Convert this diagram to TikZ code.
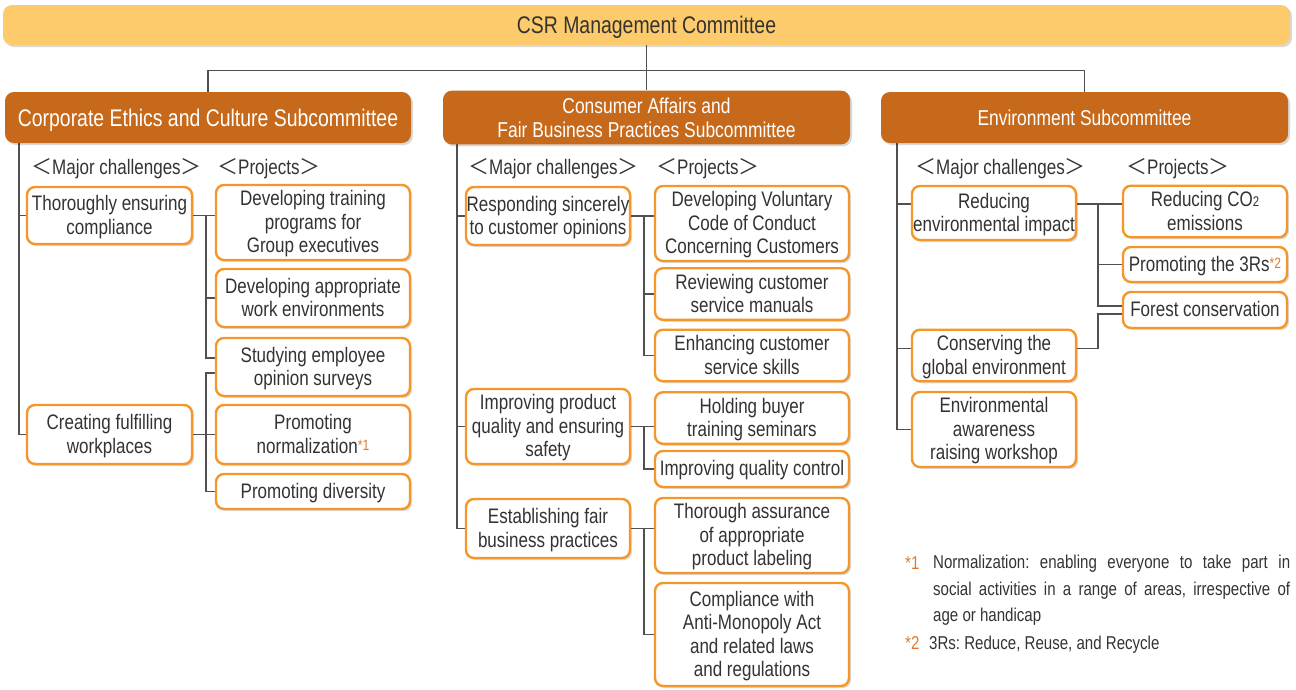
\documentclass[tikz,border=0pt]{standalone}
\usepackage{fontspec}
\setmainfont[FakeStretch=0.81]{Liberation Sans}
\newfontfamily\cjk{Noto Sans CJK JP}
\usetikzlibrary{shadows,calc,backgrounds}
\definecolor{topfill}{HTML}{FDCB6B}
\definecolor{subfill}{HTML}{C7691B}
\definecolor{boxor}{HTML}{F5962A}
\definecolor{fno}{HTML}{E2792A}
\definecolor{txt}{HTML}{333333}
\definecolor{connc}{HTML}{505050}
\newcommand\BoxFont{\fontsize{21}{23.5}\selectfont}
\newcommand\FnFont{\fontsize{18.6}{26.5}\selectfont\frenchspacing}
\newcommand\lbl[1]{{\cjk ＜}#1{\cjk ＞}}
\newcommand\fnmk[1]{\raisebox{3pt}{\fontsize{15}{15}\selectfont\color{fno}#1}}
\newcommand\tb[2][21pt]{\begin{tabular}{@{}c@{}}\rule{0pt}{#1}#2\end{tabular}}
\begin{document}
\begin{tikzpicture}[x=1pt,y=-1pt,
  shd/.style={drop shadow={shadow xshift=2pt,shadow yshift=-2pt,fill=black,opacity=0.15}},
  box/.style={draw=boxor,line width=2.4pt,fill=white,rounded corners=8pt,inner sep=0pt,
    font=\BoxFont,text=txt,shd},
  subbox/.style={fill=subfill,rounded corners=9pt,inner sep=0pt,text=white,shd},
  topbox/.style={fill=topfill,rounded corners=9pt,inner sep=0pt,text=txt,shd,
    font=\fontsize{24}{26}\selectfont},
  lab/.style={anchor=base west,inner sep=0pt,font=\BoxFont,text=txt},
  conn/.style={draw=connc,line width=1.2pt},
  fn/.style={inner sep=0pt,font=\FnFont,text=txt}]
\useasboundingbox (0,0) rectangle (1296,689);

% top and subcommittees
\node[topbox,minimum width=1287pt,minimum height=40pt] (top) at (646.5,25) {\tb[25pt]{CSR Management Committee}};
\node[subbox,minimum width=406pt,minimum height=51pt,font=\fontsize{24}{26}\selectfont] (sub1) at (208,117.5) {\tb[25pt]{Corporate Ethics and Culture Subcommittee}};
\node[subbox,minimum width=407pt,minimum height=51pt,font=\fontsize{21.5}{24}\selectfont] (sub2) at (646.5,117.5) {\tb[22.6pt]{Consumer Affairs and\\Fair Business Practices Subcommittee}};
\node[subbox,minimum width=407pt,minimum height=51pt,font=\fontsize{21.5}{24}\selectfont] (sub3) at (1084.5,117.5) {\tb[22.6pt]{Environment Subcommittee}};

% labels
\node[lab] (l1a) at (31,174) {\lbl{Major challenges}};
\node[lab] (l1b) at (217,174) {\lbl{Projects}};
\node[lab] (l2a) at (468,174) {\lbl{Major challenges}};
\node[lab] (l2b) at (656,174) {\lbl{Projects}};
\node[lab] (l3a) at (915,174) {\lbl{Major challenges}};
\node[lab] (l3b) at (1126,174) {\lbl{Projects}};

% left column
\node[box,minimum width=165pt,minimum height=57pt] (lc1) at (109.5,215.5) {\tb{Thoroughly ensuring\\compliance}};
\node[box,minimum width=165pt,minimum height=59pt] (lc2) at (109.5,434.5) {\tb{Creating fulfilling\\workplaces}};
\node[box,minimum width=194pt,minimum height=73pt] (lp1) at (313,222.5) {\tb{Developing training\\programs for\\Group executives}};
\node[box,minimum width=194pt,minimum height=58pt] (lp2) at (313,298) {\tb{Developing appropriate\\work environments}};
\node[box,minimum width=194pt,minimum height=58pt] (lp3) at (313,367) {\tb{Studying employee\\opinion surveys}};
\node[box,minimum width=194pt,minimum height=59pt] (lp4) at (313,434.5) {\tb{Promoting\\normalization\fnmk{*1}}};
\node[box,minimum width=194pt,minimum height=35pt] (lp5) at (313,491.5) {\tb{Promoting diversity}};

% middle column
\node[box,minimum width=164pt,minimum height=58pt] (mc1) at (548,216) {\tb{Responding sincerely\\to customer opinions}};
\node[box,minimum width=164pt,minimum height=73pt] (mc2) at (548,426.5) {\tb{Improving product\\quality and ensuring\\safety}};
\node[box,minimum width=164pt,minimum height=59pt] (mc3) at (548,528.5) {\tb{Establishing fair\\business practices}};
\node[box,minimum width=194pt,minimum height=73pt] (mp1) at (752,223.5) {\tb{Developing Voluntary\\Code of Conduct\\Concerning Customers}};
\node[box,minimum width=194pt,minimum height=50pt] (mp2) at (752,294) {\tb{Reviewing customer\\service manuals}};
\node[box,minimum width=194pt,minimum height=51pt] (mp3) at (752,355.5) {\tb{Enhancing customer\\service skills}};
\node[box,minimum width=194pt,minimum height=50pt] (mp4) at (752,418) {\tb{Holding buyer\\training seminars}};
\node[box,minimum width=194pt,minimum height=36pt] (mp5) at (752,469) {\tb{Improving quality control}};
\node[box,minimum width=194pt,minimum height=73pt] (mp6) at (752,535.5) {\tb{Thorough assurance\\of appropriate\\product labeling}};
\node[box,minimum width=194pt,minimum height=103pt] (mp7) at (752,634.5) {\tb{Compliance with\\Anti-Monopoly Act\\and related laws\\and regulations}};

% right column
\node[box,minimum width=164pt,minimum height=54pt] (rc1) at (994,213) {\tb{Reducing\\environmental impact}};
\node[box,minimum width=164pt,minimum height=51pt] (rc2) at (994,355.5) {\tb{Conserving the\\global environment}};
\node[box,minimum width=164pt,minimum height=73pt] (rc3) at (994,429.5) {\tb{Environmental\\awareness\\raising workshop}};
\node[box,minimum width=164pt,minimum height=51pt] (rp1) at (1205,211.5) {\tb{Reducing CO{\fontsize{14}{14}\selectfont 2}\\emissions}};
\node[box,minimum width=164pt,minimum height=35pt] (rp2) at (1205,264.5) {\tb{Promoting the 3Rs\fnmk{*2}}};
\node[box,minimum width=164pt,minimum height=36pt] (rp3) at (1205,310) {\tb{Forest conservation}};

% footnotes
\node[fn,anchor=base west,text=fno] (f1m) at (905,569) {*1};
\node[fn,anchor=north west,text width=357pt,align=justify] (f1) at (933,555) {Normalization: enabling everyone to take part in\linebreak social activities in a range of areas, irrespective of\linebreak age or handicap};
\node[fn,anchor=base west,text=fno] (f2m) at (905,649) {*2};
\node[fn,anchor=base west] (f2) at (929,649) {3Rs: Reduce, Reuse, and Recycle};

\begin{scope}[on background layer]
\draw[conn] (top.south) -- ++(0,25) coordinate (hub);
\draw[conn] (sub1.north) |- (hub) -| (sub3.north);
\draw[conn] (hub) -- (sub2.north);
% left
\coordinate (lt) at (19,143);
\draw[conn] (lt) |- (lc1.west);
\draw[conn] (lt) |- (lc2.west);
\draw[conn] (lc1.east) -- (lc1.east -| lp1.west);
\coordinate (lv1) at (206,215.5);
\draw[conn] (lv1) |- (lp2.west);
\draw[conn] (lv1) |- ($(lp3.west)+(0,-9)$);
\draw[conn] (lc2.east) -- (lc2.east -| lp4.west);
\coordinate (lv2) at (206,434.5);
\draw[conn] ($(lp3.west)+(0,6)$) -| (lv2) |- (lp5.west);
% middle
\coordinate (mt) at (457,143);
\draw[conn] (mt) |- (mc1.west);
\draw[conn] (mt) |- (mc2.west);
\draw[conn] (mt) |- (mc3.west);
\draw[conn] (mc1.east) -- (mc1.east -| mp1.west);
\coordinate (mv1) at (644,216);
\draw[conn] (mv1) |- (mp2.west);
\draw[conn] (mv1) |- (mp3.west);
\draw[conn] (mc2.east) -- (mc2.east -| mp4.west);
\coordinate (mv2) at (644,426.5);
\draw[conn] (mv2) |- (mp5.west);
\draw[conn] (mc3.east) -- (mc3.east -| mp6.west);
\coordinate (mv3) at (644,528.5);
\draw[conn] (mv3) |- (mp7.west);
% right
\coordinate (rt) at (897,143);
\draw[conn] (rt) |- ($(rc1.west)+(0,-9)$);
\draw[conn] (rt) |- ($(rc2.west)+(0,-7)$);
\draw[conn] (rt) |- (rc3.west);
\draw[conn] ($(rc1.east)+(0,-9)$) coordinate (rv0) -- (rv0 -| rp1.west);
\coordinate (rv1) at (1098,204);
\draw[conn] (rv1) |- (rp2.west);
\draw[conn] (rv1) |- ($(rp3.west)+(0,-4)$);
\coordinate (rv2) at (1098,314);
\draw[conn] ($(rc2.east)+(0,-7)$) -| (rv2) -- (rv2 -| rp3.west);
\end{scope}
\end{tikzpicture}
\end{document}
